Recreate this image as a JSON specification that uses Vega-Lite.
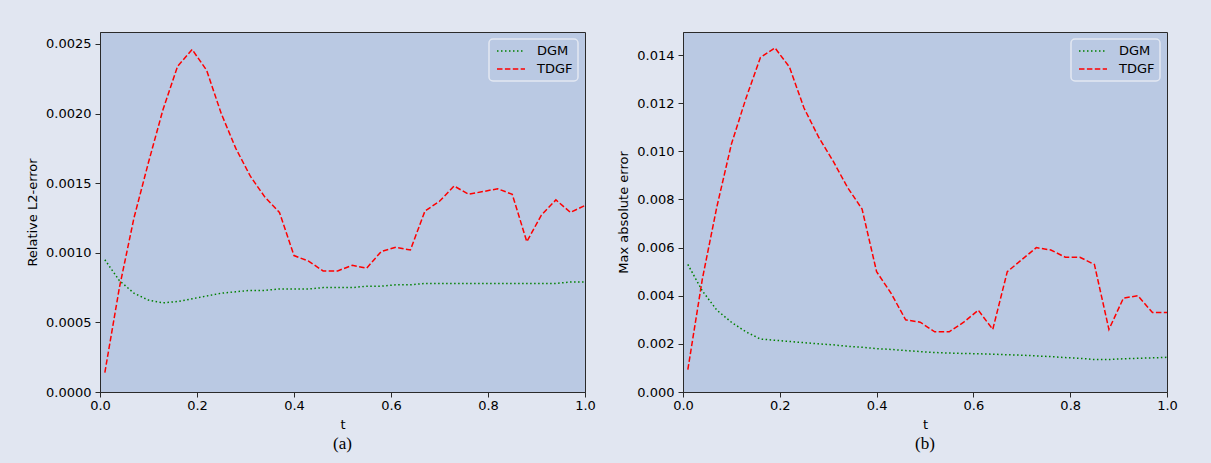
{
  "$schema": "https://vega.github.io/schema/vega-lite/v6.json",
  "background": "#e1e6f1",
  "padding": {"left": 26, "top": 31, "right": 33, "bottom": 10},
  "bounds": "flush",
  "spacing": 98,
  "datasets": {
    "a": [
      {"t": 0.01, "v": 0.00014, "method": "TDGF"}, {"t": 0.04, "v": 0.00075, "method": "TDGF"}, {"t": 0.07, "v": 0.00125, "method": "TDGF"}, {"t": 0.10, "v": 0.00165, "method": "TDGF"}, {"t": 0.13, "v": 0.00203, "method": "TDGF"}, {"t": 0.16, "v": 0.00234, "method": "TDGF"}, {"t": 0.19, "v": 0.00246, "method": "TDGF"}, {"t": 0.22, "v": 0.00231, "method": "TDGF"}, {"t": 0.25, "v": 0.00200, "method": "TDGF"}, {"t": 0.28, "v": 0.00175, "method": "TDGF"}, {"t": 0.31, "v": 0.00155, "method": "TDGF"}, {"t": 0.34, "v": 0.00140, "method": "TDGF"}, {"t": 0.37, "v": 0.00129, "method": "TDGF"}, {"t": 0.40, "v": 0.00098, "method": "TDGF"}, {"t": 0.43, "v": 0.00094, "method": "TDGF"}, {"t": 0.46, "v": 0.00087, "method": "TDGF"}, {"t": 0.49, "v": 0.00087, "method": "TDGF"}, {"t": 0.52, "v": 0.00091, "method": "TDGF"}, {"t": 0.55, "v": 0.00089, "method": "TDGF"}, {"t": 0.58, "v": 0.00101, "method": "TDGF"}, {"t": 0.61, "v": 0.00104, "method": "TDGF"}, {"t": 0.64, "v": 0.00102, "method": "TDGF"}, {"t": 0.67, "v": 0.00130, "method": "TDGF"}, {"t": 0.70, "v": 0.00137, "method": "TDGF"}, {"t": 0.73, "v": 0.00148, "method": "TDGF"}, {"t": 0.76, "v": 0.00142, "method": "TDGF"}, {"t": 0.79, "v": 0.00144, "method": "TDGF"}, {"t": 0.82, "v": 0.00146, "method": "TDGF"}, {"t": 0.85, "v": 0.00142, "method": "TDGF"}, {"t": 0.88, "v": 0.00108, "method": "TDGF"}, {"t": 0.91, "v": 0.00127, "method": "TDGF"}, {"t": 0.94, "v": 0.00138, "method": "TDGF"}, {"t": 0.97, "v": 0.00129, "method": "TDGF"}, {"t": 1.00, "v": 0.00134, "method": "TDGF"},
      {"t": 0.01, "v": 0.00095, "method": "DGM"}, {"t": 0.04, "v": 0.00080, "method": "DGM"}, {"t": 0.07, "v": 0.00071, "method": "DGM"}, {"t": 0.10, "v": 0.00066, "method": "DGM"}, {"t": 0.13, "v": 0.00064, "method": "DGM"}, {"t": 0.16, "v": 0.00065, "method": "DGM"}, {"t": 0.19, "v": 0.00067, "method": "DGM"}, {"t": 0.22, "v": 0.00069, "method": "DGM"}, {"t": 0.25, "v": 0.00071, "method": "DGM"}, {"t": 0.28, "v": 0.00072, "method": "DGM"}, {"t": 0.31, "v": 0.00073, "method": "DGM"}, {"t": 0.34, "v": 0.00073, "method": "DGM"}, {"t": 0.37, "v": 0.00074, "method": "DGM"}, {"t": 0.40, "v": 0.00074, "method": "DGM"}, {"t": 0.43, "v": 0.00074, "method": "DGM"}, {"t": 0.46, "v": 0.00075, "method": "DGM"}, {"t": 0.49, "v": 0.00075, "method": "DGM"}, {"t": 0.52, "v": 0.00075, "method": "DGM"}, {"t": 0.55, "v": 0.00076, "method": "DGM"}, {"t": 0.58, "v": 0.00076, "method": "DGM"}, {"t": 0.61, "v": 0.00077, "method": "DGM"}, {"t": 0.64, "v": 0.00077, "method": "DGM"}, {"t": 0.67, "v": 0.00078, "method": "DGM"}, {"t": 0.70, "v": 0.00078, "method": "DGM"}, {"t": 0.73, "v": 0.00078, "method": "DGM"}, {"t": 0.76, "v": 0.00078, "method": "DGM"}, {"t": 0.79, "v": 0.00078, "method": "DGM"}, {"t": 0.82, "v": 0.00078, "method": "DGM"}, {"t": 0.85, "v": 0.00078, "method": "DGM"}, {"t": 0.88, "v": 0.00078, "method": "DGM"}, {"t": 0.91, "v": 0.00078, "method": "DGM"}, {"t": 0.94, "v": 0.00078, "method": "DGM"}, {"t": 0.97, "v": 0.00079, "method": "DGM"}, {"t": 1.00, "v": 0.00079, "method": "DGM"}
    ],
    "b": [
      {"t": 0.01, "v": 0.00093, "method": "TDGF"}, {"t": 0.04, "v": 0.0047, "method": "TDGF"}, {"t": 0.07, "v": 0.0077, "method": "TDGF"}, {"t": 0.10, "v": 0.0103, "method": "TDGF"}, {"t": 0.13, "v": 0.0122, "method": "TDGF"}, {"t": 0.16, "v": 0.0139, "method": "TDGF"}, {"t": 0.19, "v": 0.0143, "method": "TDGF"}, {"t": 0.22, "v": 0.0135, "method": "TDGF"}, {"t": 0.25, "v": 0.0118, "method": "TDGF"}, {"t": 0.28, "v": 0.0106, "method": "TDGF"}, {"t": 0.31, "v": 0.0096, "method": "TDGF"}, {"t": 0.34, "v": 0.0085, "method": "TDGF"}, {"t": 0.37, "v": 0.0076, "method": "TDGF"}, {"t": 0.40, "v": 0.0050, "method": "TDGF"}, {"t": 0.43, "v": 0.0041, "method": "TDGF"}, {"t": 0.46, "v": 0.0030, "method": "TDGF"}, {"t": 0.49, "v": 0.0029, "method": "TDGF"}, {"t": 0.52, "v": 0.0025, "method": "TDGF"}, {"t": 0.55, "v": 0.0025, "method": "TDGF"}, {"t": 0.58, "v": 0.0029, "method": "TDGF"}, {"t": 0.61, "v": 0.0034, "method": "TDGF"}, {"t": 0.64, "v": 0.0026, "method": "TDGF"}, {"t": 0.67, "v": 0.0050, "method": "TDGF"}, {"t": 0.70, "v": 0.0055, "method": "TDGF"}, {"t": 0.73, "v": 0.0060, "method": "TDGF"}, {"t": 0.76, "v": 0.0059, "method": "TDGF"}, {"t": 0.79, "v": 0.0056, "method": "TDGF"}, {"t": 0.82, "v": 0.0056, "method": "TDGF"}, {"t": 0.85, "v": 0.0053, "method": "TDGF"}, {"t": 0.88, "v": 0.0026, "method": "TDGF"}, {"t": 0.91, "v": 0.0039, "method": "TDGF"}, {"t": 0.94, "v": 0.0040, "method": "TDGF"}, {"t": 0.97, "v": 0.0033, "method": "TDGF"}, {"t": 1.00, "v": 0.0033, "method": "TDGF"},
      {"t": 0.01, "v": 0.0053, "method": "DGM"}, {"t": 0.04, "v": 0.0042, "method": "DGM"}, {"t": 0.07, "v": 0.0034, "method": "DGM"}, {"t": 0.10, "v": 0.0029, "method": "DGM"}, {"t": 0.13, "v": 0.0025, "method": "DGM"}, {"t": 0.16, "v": 0.0022, "method": "DGM"}, {"t": 0.19, "v": 0.00215, "method": "DGM"}, {"t": 0.22, "v": 0.0021, "method": "DGM"}, {"t": 0.25, "v": 0.00205, "method": "DGM"}, {"t": 0.28, "v": 0.0020, "method": "DGM"}, {"t": 0.31, "v": 0.00196, "method": "DGM"}, {"t": 0.34, "v": 0.0019, "method": "DGM"}, {"t": 0.37, "v": 0.00186, "method": "DGM"}, {"t": 0.40, "v": 0.0018, "method": "DGM"}, {"t": 0.43, "v": 0.00177, "method": "DGM"}, {"t": 0.46, "v": 0.00172, "method": "DGM"}, {"t": 0.49, "v": 0.00168, "method": "DGM"}, {"t": 0.52, "v": 0.00164, "method": "DGM"}, {"t": 0.55, "v": 0.00162, "method": "DGM"}, {"t": 0.58, "v": 0.0016, "method": "DGM"}, {"t": 0.61, "v": 0.00159, "method": "DGM"}, {"t": 0.64, "v": 0.00157, "method": "DGM"}, {"t": 0.67, "v": 0.00155, "method": "DGM"}, {"t": 0.70, "v": 0.00153, "method": "DGM"}, {"t": 0.73, "v": 0.0015, "method": "DGM"}, {"t": 0.76, "v": 0.00147, "method": "DGM"}, {"t": 0.79, "v": 0.00143, "method": "DGM"}, {"t": 0.82, "v": 0.0014, "method": "DGM"}, {"t": 0.85, "v": 0.00135, "method": "DGM"}, {"t": 0.88, "v": 0.00135, "method": "DGM"}, {"t": 0.91, "v": 0.00138, "method": "DGM"}, {"t": 0.94, "v": 0.0014, "method": "DGM"}, {"t": 0.97, "v": 0.00142, "method": "DGM"}, {"t": 1.00, "v": 0.00144, "method": "DGM"}
    ]
  },
  "hconcat": [
    {
      "data": {"name": "a"},
      "width": 485,
      "height": 360,
      "title": {"text": "(a)", "orient": "bottom"},
      "mark": {"type": "line", "strokeWidth": 1.5, "clip": true},
      "encoding": {
        "x": {"field": "t", "type": "quantitative", "title": "t",
              "scale": {"domain": [0, 1], "nice": false, "zero": false},
              "axis": {"values": [0, 0.2, 0.4, 0.6, 0.8, 1.0], "format": ".1f"}},
        "y": {"field": "v", "type": "quantitative", "title": "Relative L2-error",
              "scale": {"domain": [0, 0.002586], "nice": false},
              "axis": {"values": [0, 0.0005, 0.001, 0.0015, 0.002, 0.0025], "format": ".4f"}},
        "color": {"field": "method", "type": "nominal",
                  "scale": {"domain": ["DGM", "TDGF"], "range": ["#008000", "#ff0000"]},
                  "legend": {"title": null}},
        "strokeDash": {"field": "method", "type": "nominal",
                       "scale": {"domain": ["DGM", "TDGF"], "range": [[1.5, 2.5], [5.5, 2.4]]},
                       "legend": {"title": null}}
      }
    },
    {
      "data": {"name": "b"},
      "width": 484,
      "height": 360,
      "title": {"text": "(b)", "orient": "bottom"},
      "mark": {"type": "line", "strokeWidth": 1.5, "clip": true},
      "encoding": {
        "x": {"field": "t", "type": "quantitative", "title": "t",
              "scale": {"domain": [0, 1], "nice": false, "zero": false},
              "axis": {"values": [0, 0.2, 0.4, 0.6, 0.8, 1.0], "format": ".1f"}},
        "y": {"field": "v", "type": "quantitative", "title": "Max absolute error",
              "scale": {"domain": [0, 0.01496], "nice": false},
              "axis": {"values": [0, 0.002, 0.004, 0.006, 0.008, 0.010, 0.012, 0.014], "format": ".3f"}},
        "color": {"field": "method", "type": "nominal",
                  "scale": {"domain": ["DGM", "TDGF"], "range": ["#008000", "#ff0000"]},
                  "legend": {"title": null}},
        "strokeDash": {"field": "method", "type": "nominal",
                       "scale": {"domain": ["DGM", "TDGF"], "range": [[1.5, 2.5], [5.5, 2.4]]},
                       "legend": {"title": null}}
      }
    }
  ],
  "resolve": {"scale": {"color": "independent", "strokeDash": "independent"}, "legend": {"color": "independent", "strokeDash": "independent"}},
  "config": {
    "font": "DejaVu Sans",
    "view": {"fill": "#bac9e3", "stroke": "#2a2a2a", "strokeWidth": 1},
    "axis": {
      "grid": false,
      "domainColor": "#2a2a2a",
      "tickColor": "#2a2a2a",
      "tickSize": 5,
      "labelPadding": 4,
      "labelFont": "DejaVu Sans",
      "labelFontSize": 13,
      "labelColor": "#000000",
      "titleFont": "DejaVu Sans",
      "titleFontSize": 13,
      "titleFontWeight": "normal",
      "titleColor": "#000000"
    },
    "axisX": {"titlePadding": 6, "labelPadding": 2, "labelFlush": false},
    "axisY": {"titlePadding": 6},
    "title": {"font": "Liberation Serif", "fontSize": 17, "fontWeight": "normal", "color": "#000000", "offset": 5},
    "legend": {
      "orient": "top-right",
      "offset": 7,
      "fillColor": "#bac9e3",
      "strokeColor": "#e3e8f2",
      "strokeWidth": 1.5,
      "cornerRadius": 4,
      "padding": 5,
      "symbolType": "M-0.667,0H4",
      "symbolSize": 144,
      "symbolStrokeWidth": 1.5,
      "labelFont": "DejaVu Sans",
      "labelFontSize": 13,
      "labelColor": "#000000",
      "labelOffset": 29,
      "rowPadding": 4
    }
  }
}
